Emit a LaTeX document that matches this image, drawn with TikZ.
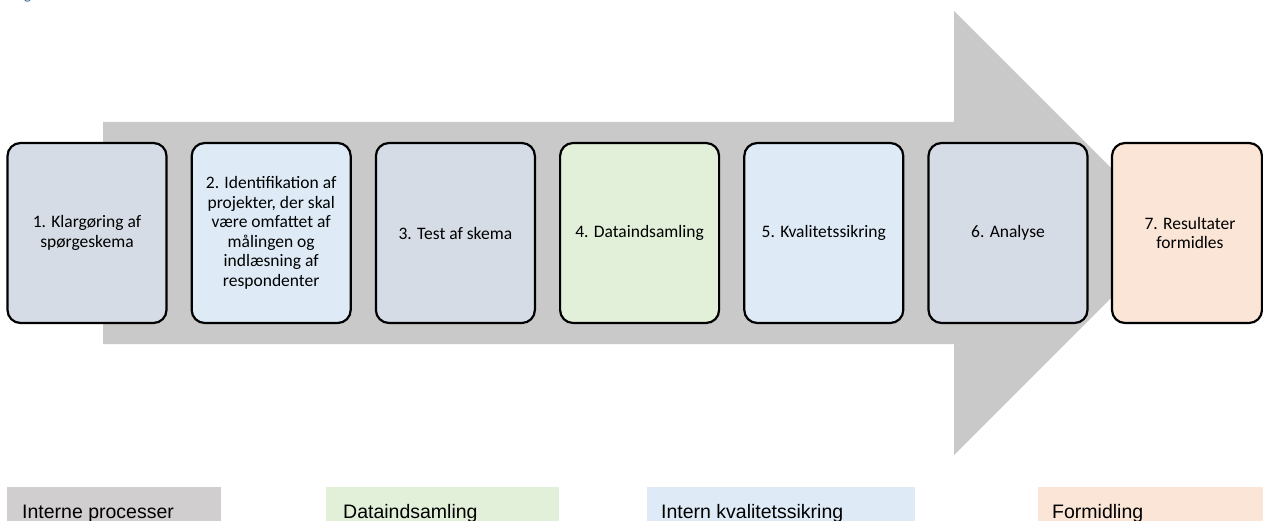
\documentclass[tikz,border=0pt]{standalone}
\usepackage{fontspec}
\newfontfamily\carlito{Carlito}
\newfontfamily\arialf{Liberation Sans}
\definecolor{arrowgray}{HTML}{C9C9C9}
\definecolor{cgray}{HTML}{D6DCE5}
\definecolor{cblue}{HTML}{DEEBF7}
\definecolor{cgreen}{HTML}{E2F0D9}
\definecolor{corange}{HTML}{FBE5D6}
\definecolor{lgray}{HTML}{D0CECE}
\definecolor{capblue}{HTML}{2E5F9A}
\tikzset{
  stepbox/.style={draw=black, line width=2.2pt, rounded corners=13pt, minimum width=159pt, minimum height=180pt,
    align=center, inner sep=0pt, font=\carlito\fontsize{17.5}{19.5}\selectfont},
  legtext/.style={anchor=base west, inner sep=0pt, font=\arialf\fontsize{19.5}{22}\selectfont}
}
\begin{document}
\begin{tikzpicture}[x=1pt,y=-1pt]
\useasboundingbox (0,0) rectangle (1263,521);
% clipped caption fragment
\begin{scope}
\clip (0,0) rectangle (1263,521);
\node[anchor=base west, inner sep=0pt, text=capblue, font=\carlito\fontsize{15}{18}\selectfont] (cap) at (24,-0.5) {g};
\end{scope}
% big arrow
\fill[arrowgray] (103,122) -- (954,122) -- (954,11) -- (1176,233) -- (954,455) -- (954,344) -- (103,344) -- cycle;
% steps
\node[stepbox, fill=cgray] (b1) at (87,233) {1. Klargøring af\\spørgeskema};
\node[stepbox, fill=cblue] (b2) at (271.2,233) {2. Identifikation af\\projekter, der skal\\være omfattet af\\målingen og\\indlæsning af\\respondenter};
\node[stepbox, fill=cgray] (b3) at (455.4,233) {3. Test af skema};
\node[stepbox, fill=cgreen] (b4) at (639.6,233) {4. Dataindsamling};
\node[stepbox, fill=cblue] (b5) at (823.8,233) {5. Kvalitetssikring};
\node[stepbox, fill=cgray] (b6) at (1008,233) {6. Analyse};
\node[stepbox, fill=corange, minimum width=150pt] (b7) at (1187,233) {\hspace*{6pt}7. Resultater\\\hspace*{6pt}formidles};
% legend
\fill[lgray] (7,487) rectangle (221,525);
\fill[cgreen] (326,487) rectangle (559,525);
\fill[cblue] (647,487) rectangle (915,525);
\fill[corange] (1038,487) rectangle (1263,525);
\node[legtext] (l1) at (22,518) {Interne processer};
\node[legtext] (l2) at (343,518) {Dataindsamling};
\node[legtext] (l3) at (661,518) {Intern kvalitetssikring};
\node[legtext] (l4) at (1052,518) {Formidling};
\end{tikzpicture}
\end{document}
